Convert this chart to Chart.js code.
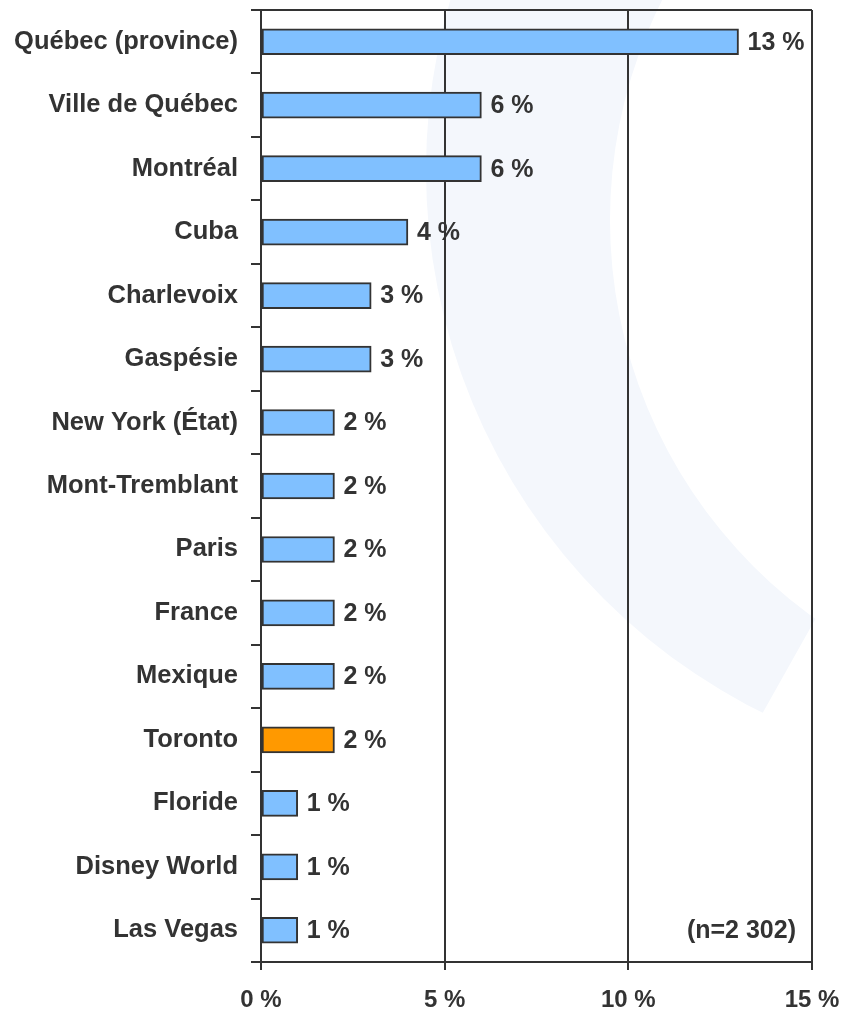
<!DOCTYPE html>
<html>
<head>
<meta charset="utf-8">
<script src="https://cdn.jsdelivr.net/npm/chart.js@4.4.1/dist/chart.umd.min.js"></script>
<style>
  html, body { margin: 0; padding: 0; background: #ffffff; }
  #wrap { width: 846px; height: 1014px; }
</style>
</head>
<body>
<div id="wrap"><canvas id="c" width="846" height="1014"></canvas></div>
<script>
// Destinations and shares (%)
const destinations = [
  'Québec (province)', 'Ville de Québec', 'Montréal', 'Cuba', 'Charlevoix',
  'Gaspésie', 'New York (État)', 'Mont-Tremblant', 'Paris', 'France',
  'Mexique', 'Toronto', 'Floride', 'Disney World', 'Las Vegas'
];
const shares = [13, 6, 6, 4, 3, 3, 2, 2, 2, 2, 2, 2, 1, 1, 1];
const highlighted = 'Toronto';
const sampleNote = '(n=2 302)';
const axisMin = 0, axisMax = 15, axisStep = 5;

const FONT = '"Liberation Sans", Arial, sans-serif';
const INK = '#333333';
const BAR_BLUE = '#80C0FF';
const BAR_ORANGE = '#FF9900';

// Faint background swoosh behind the plot
const swoosh = {
  id: 'swoosh',
  beforeDraw(chart) {
    const ctx = chart.ctx;
    ctx.save();
    ctx.beginPath();
    ctx.arc(1032, 170, 606, 0, Math.PI * 2);
    ctx.clip();
    ctx.beginPath();
    ctx.moveTo(0, -10);
    ctx.lineTo(900, -10);
    ctx.lineTo(900, 475);
    ctx.lineTo(812, 625);
    ctx.lineTo(757, 723);
    ctx.lineTo(740, 753);
    ctx.lineTo(0, 753);
    ctx.closePath();
    ctx.clip();
    ctx.beginPath();
    ctx.rect(0, -10, 900, 1100);
    ctx.arc(1100, 220, 490, 0, Math.PI * 2);
    ctx.fillStyle = '#F4F7FC';
    ctx.fill('evenodd');
    ctx.restore();
  }
};

// Top frame line, value labels and sample size note
const annotations = {
  id: 'annotations',
  afterDatasetsDraw(chart) {
    const ctx = chart.ctx;
    const area = chart.chartArea;
    ctx.save();
    ctx.strokeStyle = INK;
    ctx.lineWidth = 2;
    ctx.beginPath();
    ctx.moveTo(area.left, area.top);
    ctx.lineTo(area.right, area.top);
    ctx.stroke();

    ctx.fillStyle = INK;
    ctx.font = 'bold 25px ' + FONT;
    ctx.textBaseline = 'middle';
    ctx.textAlign = 'left';
    const meta = chart.getDatasetMeta(0);
    meta.data.forEach((bar, i) => {
      ctx.fillText(shares[i] + ' %', bar.x + 9, bar.y + 1);
    });

    const yScale = chart.scales.y;
    ctx.textAlign = 'right';
    ctx.fillText(sampleNote, area.right - 16, yScale.getPixelForValue(destinations.length - 1) + 1);
    ctx.restore();
  }
};

new Chart(document.getElementById('c'), {
  type: 'bar',
  data: {
    labels: destinations,
    datasets: [{
      data: shares,
      backgroundColor: destinations.map(d => d === highlighted ? BAR_ORANGE : BAR_BLUE),
      borderColor: INK,
      borderWidth: 2,
      borderSkipped: false,
      barThickness: 26
    }]
  },
  options: {
    indexAxis: 'y',
    responsive: false,
    animation: false,
    devicePixelRatio: 1,
    layout: { padding: { top: 10, right: 34, left: 0, bottom: 0 } },
    plugins: {
      legend: { display: false },
      tooltip: { enabled: false }
    },
    scales: {
      x: {
        min: axisMin,
        max: axisMax,
        afterFit(scale) {
          scale.height = 52;
          scale.paddingLeft = 0;
          scale.paddingRight = 0;
        },
        ticks: {
          stepSize: axisStep,
          color: INK,
          padding: 16,
          font: { family: FONT, size: 24, weight: 'bold' },
          callback: v => v + ' %'
        },
        grid: {
          color: INK,
          lineWidth: 2,
          tickLength: 8,
          drawOnChartArea: true
        },
        border: { display: true, color: INK, width: 2 }
      },
      y: {
        afterFit(scale) {
          scale.width = 261;
          scale.paddingTop = 0;
          scale.paddingBottom = 0;
        },
        ticks: {
          color: INK,
          padding: 13,
          font: { family: FONT, size: 25.5, weight: 'bold' }
        },
        grid: {
          offset: true,
          color: INK,
          lineWidth: 2,
          tickLength: 10,
          drawOnChartArea: false
        },
        border: { display: true, color: INK, width: 2 }
      }
    }
  },
  plugins: [swoosh, annotations]
});
</script>
</body>
</html>
